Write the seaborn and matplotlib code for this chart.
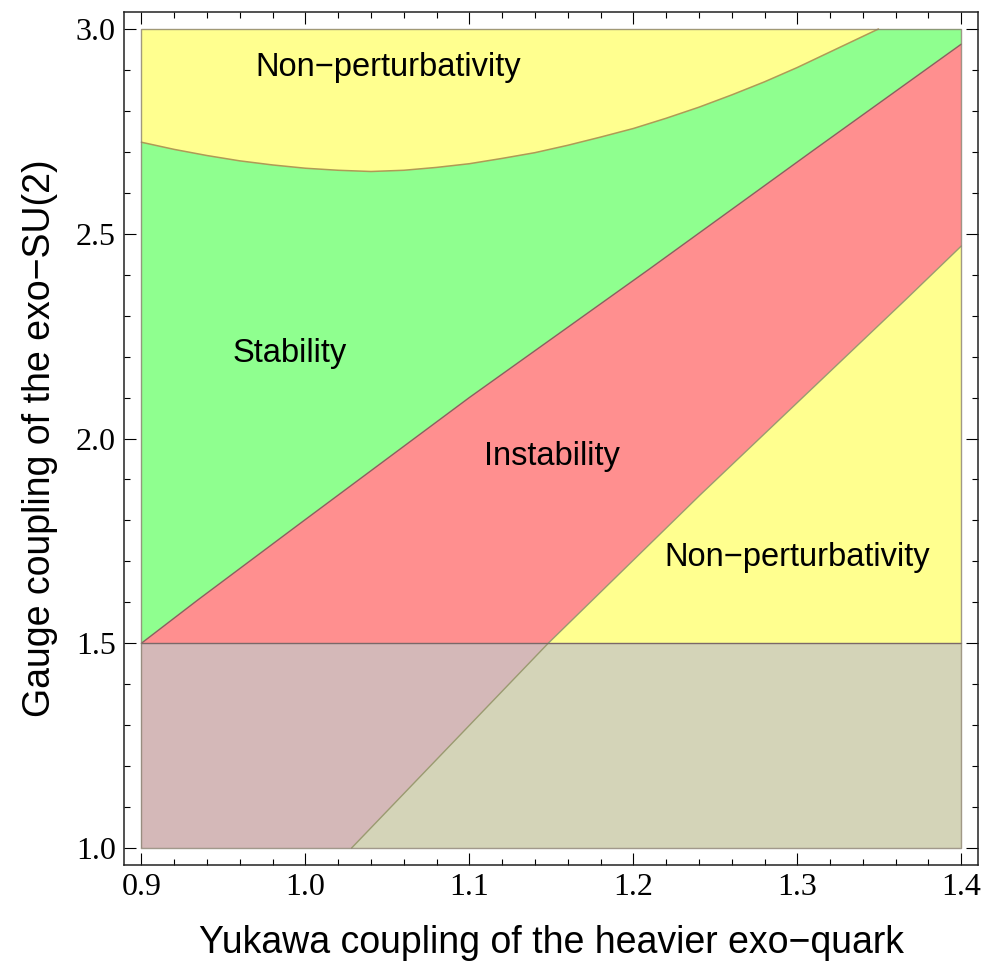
import matplotlib
matplotlib.use("Agg")
import matplotlib.pyplot as plt
import seaborn as sns
import numpy as np
import pandas as pd
from matplotlib.ticker import MultipleLocator, FormatStrFormatter

# ---- data ----
top_x = [0.90, 0.92, 0.94, 0.96, 0.98, 1.00, 1.02, 1.04, 1.06, 1.08, 1.10, 1.12, 1.14,
         1.16, 1.18, 1.20, 1.22, 1.24, 1.26, 1.28, 1.30, 1.32, 1.34, 1.3495]
top_y = [2.7235, 2.706, 2.691, 2.678, 2.668, 2.660, 2.655, 2.652, 2.655, 2.662, 2.671, 2.684, 2.698,
         2.716, 2.736, 2.757, 2.782, 2.809, 2.839, 2.871, 2.906, 2.944, 2.982, 3.0]

stab_x = [0.9, 0.9345, 0.9966, 1.1, 1.2102, 1.293, 1.3099, 1.4]
stab_y = [1.5, 1.606, 1.792, 2.100, 2.415, 2.655, 2.704, 2.963]

pert_x = [1.0282, 1.1481, 1.2407, 1.3658, 1.4]
pert_y = [1.0, 1.5, 1.862, 2.338, 2.470]

x_min, x_max = 0.9, 1.4
y_min, y_max = 1.0, 3.0
g_cut = 1.5

labels = ["Non\u2212perturbativity", "Stability", "Instability", "Non\u2212perturbativity"]
label_x = [1.0503, 0.9905, 1.1504, 1.2998]
label_y = [2.9065, 2.2085, 1.957, 1.7105]

xlabel = "Yukawa coupling of the heavier exo\u2212quark"
ylabel = "Gauge coupling of the exo\u2212SU(2)"

yellow = "#FFFF8F"
green = "#8FFF8F"
red = "#FF8F8F"
grey = "#C6C6C6"

sns.set_theme(style="ticks")
plt.rcParams["font.family"] = ["Liberation Sans", "DejaVu Sans"]
plt.rcParams["text.color"] = "black"
plt.rcParams["axes.labelcolor"] = "black"
plt.rcParams["xtick.color"] = "black"
plt.rcParams["ytick.color"] = "black"

fig = plt.figure(figsize=(9.96, 9.64), dpi=100)
ax = fig.add_axes([124/996, (964-865)/964, (978-124)/996, (865-12)/964])

# regions
poly_top = list(zip(top_x, top_y)) + [(x_min, y_max)]
poly_green = list(zip(top_x, top_y)) + [(x_max, y_max)] + list(zip(stab_x, stab_y))[::-1]
poly_red = list(zip(stab_x, stab_y)) + list(zip(pert_x, pert_y))[::-1] + [(x_min, y_min)]
poly_yel = list(zip(pert_x, pert_y)) + [(x_max, y_min)]

for poly, c in [(poly_top, yellow), (poly_green, green), (poly_red, red), (poly_yel, yellow)]:
    px, py = zip(*poly)
    ax.fill(px, py, color=c, lw=0, zorder=1)

ax.fill_between([x_min, x_max], [y_min, y_min], [g_cut, g_cut], color=grey, alpha=0.75, lw=0, zorder=2)

# boundaries
df_top = pd.DataFrame({"x": top_x, "y": top_y})
df_stab = pd.DataFrame({"x": stab_x, "y": stab_y})
df_pert = pd.DataFrame({"x": pert_x, "y": pert_y})
sns.lineplot(data=df_top, x="x", y="y", sort=False, color="#B09A55", lw=1.1, ax=ax, zorder=3)
sns.lineplot(data=df_stab, x="x", y="y", sort=False, color="#8A6060", lw=1.0, ax=ax, zorder=3)
sns.lineplot(data=df_pert, x="x", y="y", sort=False, color="#9A9A70", lw=1.0, ax=ax, zorder=3)
ax.plot([x_min, x_max], [g_cut, g_cut], color="#7A6868", lw=1.0, zorder=3)
ax.plot([x_min, x_max, x_max, x_min, x_min], [y_min, y_min, y_max, y_max, y_min],
        color="#8A8070", lw=1.0, alpha=0.8, zorder=3)

for t, lx, ly in zip(labels, label_x, label_y):
    ax.text(lx, ly, t, ha="center", va="center", fontsize=23.5, color="black", zorder=4)

ax.set_xlim(0.8894, 1.4102)
ax.set_ylim(0.9585, 3.0415)

ax.xaxis.set_major_locator(MultipleLocator(0.1))
ax.xaxis.set_minor_locator(MultipleLocator(0.02))
ax.yaxis.set_major_locator(MultipleLocator(0.5))
ax.yaxis.set_minor_locator(MultipleLocator(0.1))
ax.xaxis.set_major_formatter(FormatStrFormatter("%.1f"))
ax.yaxis.set_major_formatter(FormatStrFormatter("%.1f"))

ax.tick_params(which="both", direction="in", top=True, right=True, color="black", width=0.8)
ax.tick_params(which="major", length=8.5, pad=6, labelsize=23, labelcolor="black")
ax.tick_params(which="minor", length=4.5)
for lab in ax.get_xticklabels() + ax.get_yticklabels():
    lab.set_family(["Liberation Serif", "DejaVu Serif"])

for s in ax.spines.values():
    s.set_linewidth(1.1)
    s.set_color("#222222")

ax.set_xlabel(xlabel, fontsize=27, labelpad=16, color="black")
ax.set_ylabel(ylabel, fontsize=27, labelpad=13, color="black")
ax.grid(False)

fig.savefig("out.png", dpi=100)
